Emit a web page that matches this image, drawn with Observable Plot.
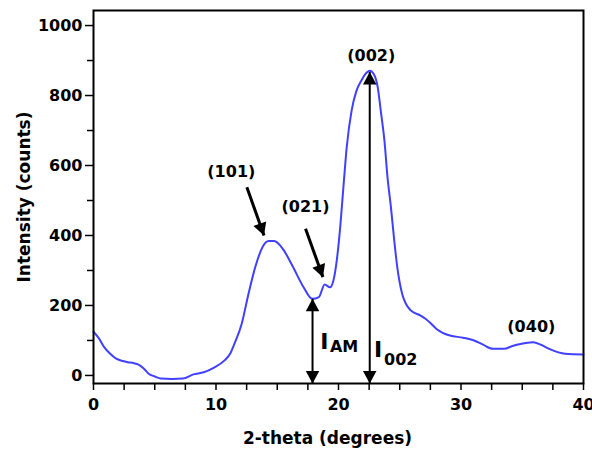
<!DOCTYPE html>
<html>
<head>
<meta charset="utf-8">
<script src="https://cdn.jsdelivr.net/npm/d3@7"></script>
<script src="https://cdn.jsdelivr.net/npm/@observablehq/plot@0.6"></script>
<style>
  body { margin: 0; background: #fff; }
  #chart svg { display: block; }
</style>
</head>
<body>
<div id="chart"></div>
<script>
// ---- data ----
const twoTheta = [0.0, 0.4, 0.87, 1.3, 1.85, 2.3, 2.8, 3.3, 3.67, 4.1, 4.5, 5.0, 5.5, 6.4, 7.3, 8.15, 9.0, 9.8,
  10.7, 11.2, 11.5, 12.1, 12.65, 13.2, 13.8, 14.3, 14.75, 15.45, 16.3, 17.15, 17.85, 18.4, 18.87, 19.3, 19.58,
  19.86, 20.14, 20.4, 20.67, 21.07, 21.47, 21.87, 22.2, 22.55, 22.9, 23.2, 23.48, 23.75, 24.0, 24.28, 24.55,
  24.8, 25.2, 25.5, 25.9, 26.7, 27.1, 27.5, 28.0, 28.5, 29.1, 30.17, 31.07, 31.8, 32.6, 33.5, 34.2, 34.85,
  35.9, 36.5, 37.2, 38.5, 40.0];
const intensity = [125, 108, 81, 64, 48, 42, 38, 35, 31, 20, 5, -3, -9, -10, -9, 3, 9, 22,
  43, 65, 90, 148, 233, 309, 367, 384, 384, 362, 309, 252, 219, 224, 260, 252, 271,
  329, 424, 538, 652, 757, 814, 843, 862, 871, 860, 824, 748, 671, 567, 481, 386,
  309, 233, 205, 186, 171, 162, 150, 133, 122, 114, 108, 100, 88, 76, 76, 84, 90,
  95, 88, 76, 62, 60];

const xTickValues = [0, 10, 20, 30, 40];
const xMinorTicks = [2.5, 5, 7.5, 12.5, 15, 17.5, 22.5, 25, 27.5, 32.5, 35, 37.5];
const yTickValues = [0, 200, 400, 600, 800, 1000];
const yMinorTicks = [100, 300, 500, 700, 900];

const peakLabels = ["(101)", "(021)", "(002)", "(040)"];
const peakLabelTheta = [11.25, 17.31, 22.67, 35.74];
const peakLabelIntensity = [581, 481, 914, 138];

// pointer arrows: [theta, intensity] start -> tip
const pointerStart = [[12.52, 538], [17.31, 419]];
const pointerTip = [[13.92, 400], [18.73, 281]];

// double-headed measurement arrows (I_AM, I_002)
const measureTheta = [17.88, 22.55];
const measureTop = [219, 867];

const measureMain = ["I", "I"];
const measureMainTheta = [18.5, 22.9];
const measureMainY = [76, 52];
const measureSub = ["AM", "002"];
const measureSubTheta = [19.3, 23.72];
const measureSubY = [67, 29];

// ---- layout ----
const W = 592, H = 451;
const xDomain = [0, 40];
const xRange = [93, 583];
const yDomain = [-23, 1043];
const yRange = [383, 10];
const fx = d3.scaleLinear(xDomain, xRange);
const fy = d3.scaleLinear(yDomain, yRange);

function headSymbol(from, to) {
  const dx = fx(to[0]) - fx(from[0]);
  const dy = fy(to[1]) - fy(from[1]);
  const len = Math.hypot(dx, dy) || 1;
  const ux = dx / len, uy = dy / len;
  return {
    draw(ctx, size) {
      const r = Math.sqrt(size / Math.PI);
      const L = 2.5 * r, w = 1.35 * r;
      ctx.moveTo(0, 0);
      ctx.lineTo(-L * ux - w * uy, -L * uy + w * ux);
      ctx.lineTo(-L * ux + w * uy, -L * uy - w * ux);
      ctx.closePath();
    }
  };
}

const curve = twoTheta.map((t, i) => ({t, v: intensity[i]}));
const bottom = yDomain[0];

const heads = [];
pointerStart.forEach((s, i) => heads.push({from: s, to: pointerTip[i]}));
measureTheta.forEach((t, i) => {
  heads.push({from: [t, bottom], to: [t, measureTop[i]]});
  heads.push({from: [t, measureTop[i]], to: [t, bottom]});
});

const bold = {fontWeight: "bold", fill: "black"};

const chart = Plot.plot({
  width: W,
  height: H,
  marginLeft: 93, marginRight: 9, marginTop: 10, marginBottom: 68,
  style: {fontFamily: "'DejaVu Sans', sans-serif", fontSize: "16px", color: "black", background: "white"},
  x: {type: "linear", domain: xDomain, range: xRange},
  y: {type: "linear", domain: yDomain, range: yRange},
  marks: [
    Plot.axisX(xTickValues, {tickSize: 7, tickPadding: 8, strokeWidth: 1.5, fontSize: 16, fontWeight: "bold", tickFormat: "d", label: null}),
    Plot.axisX(xMinorTicks, {tickSize: 7, strokeWidth: 1.5, tickFormat: () => "", label: null}),
    Plot.axisY(yTickValues, {tickSize: 8, tickPadding: 3, strokeWidth: 1.5, fontSize: 16, fontWeight: "bold", tickFormat: "d", label: null}),
    Plot.axisY(yMinorTicks, {tickSize: 6, strokeWidth: 1.5, tickFormat: () => "", label: null}),
    Plot.line(curve, {x: "t", y: "v", stroke: "#4040ff", strokeWidth: 2, curve: "monotone-x"}),
    Plot.link(measureTheta, {x1: d => d, x2: d => d, y1: () => bottom, y2: (d, i) => measureTop[i], stroke: "black", strokeWidth: 2}),
    Plot.link(pointerStart, {x1: d => d[0], y1: d => d[1], x2: (d, i) => pointerTip[i][0], y2: (d, i) => pointerTip[i][1], stroke: "black", strokeWidth: 3}),
    ...heads.map(h => Plot.dot([h], {x: d => d.to[0], y: d => d.to[1], r: 5, symbol: headSymbol(h.from, h.to), fill: "black", stroke: "none"})),
    Plot.text(peakLabels, {x: (d, i) => peakLabelTheta[i], y: (d, i) => peakLabelIntensity[i], text: d => d, fontSize: 16, ...bold}),
    Plot.text(measureMain, {x: (d, i) => measureMainTheta[i], y: (d, i) => measureMainY[i], text: d => d, textAnchor: "start", lineAnchor: "bottom", fontSize: 22, ...bold}),
    Plot.text(measureSub, {x: (d, i) => measureSubTheta[i], y: (d, i) => measureSubY[i], text: d => d, textAnchor: "start", lineAnchor: "bottom", fontSize: 16, ...bold}),
    Plot.frame({stroke: "black", strokeWidth: 2}),
    Plot.text(["2-theta (degrees)"], {frameAnchor: "bottom", textAnchor: "middle", lineAnchor: "middle", dy: 55, dx: -11, fontSize: 17, ...bold}),
    Plot.text(["Intensity (counts)"], {frameAnchor: "left", textAnchor: "middle", lineAnchor: "middle", rotate: -90, dx: -69, fontSize: 17, ...bold})
  ]
});
document.getElementById("chart").appendChild(chart);
</script>
</body>
</html>
